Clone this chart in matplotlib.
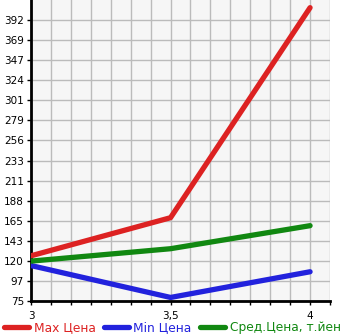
import matplotlib.pyplot as plt
from matplotlib.ticker import FixedLocator

# price data per engine size
x_vals = [3, 3.5, 4]
max_price = [126, 169, 406]
min_price = [115, 79, 108]
avg_price = [120, 134, 160]

y_ticks = [75 + k * (392 - 75) / 14 for k in range(15)]
y_labels = ['75', '97', '120', '143', '165', '188', '211', '233', '256',
            '279', '301', '324', '347', '369', '392']
x_ticks = [3, 3.5, 4]
x_labels = ['3', '3,5', '4']

fig = plt.figure(figsize=(3.45, 3.35), dpi=100)
ax = fig.add_axes([31 / 345, 34 / 335, 299 / 345, 301 / 335])
ax.set_facecolor('#f6f6f6')

ax.plot(x_vals, max_price, color='#dd2222', lw=3.8, solid_capstyle='round', label='Max Цена', zorder=3)
ax.plot(x_vals, min_price, color='#2222dd', lw=3.8, solid_capstyle='round', label='Min Цена', zorder=3)
ax.plot(x_vals, avg_price, color='#118811', lw=3.8, solid_capstyle='round', label='Сред.Цена, т.йен', zorder=3)

step_y = (392 - 75) / 14
ax.set_ylim(75, 392 + step_y)
ax.set_xlim(3, 4 + 1 / 14)

ax.yaxis.set_major_locator(FixedLocator(y_ticks))
ax.set_yticklabels(y_labels)
ax.set_xticks(x_ticks)
ax.set_xticklabels(x_labels)
ax.xaxis.set_minor_locator(FixedLocator([3 + k / 14 for k in range(16)]))

ax.grid(True, which='both', color='#bbbbbb', lw=1)
ax.set_axisbelow(True)
ax.tick_params(axis='both', which='both', length=3, width=1, labelsize=7.5, pad=2)
ax.tick_params(axis='x', pad=4)

for s in ['top', 'right']:
    ax.spines[s].set_visible(False)
ax.spines['left'].set_linewidth(2)
ax.spines['bottom'].set_linewidth(2)

leg = fig.legend(loc='center', bbox_to_anchor=(0.5, 7 / 335), ncol=3, frameon=False,
                 fontsize=8.8, handlelength=2.0, handletextpad=0.4, columnspacing=0.7,
                 borderpad=0, borderaxespad=0)
for text, line in zip(leg.get_texts(), leg.get_lines()):
    text.set_color(line.get_color())

fig.savefig('out.png', dpi=100)
